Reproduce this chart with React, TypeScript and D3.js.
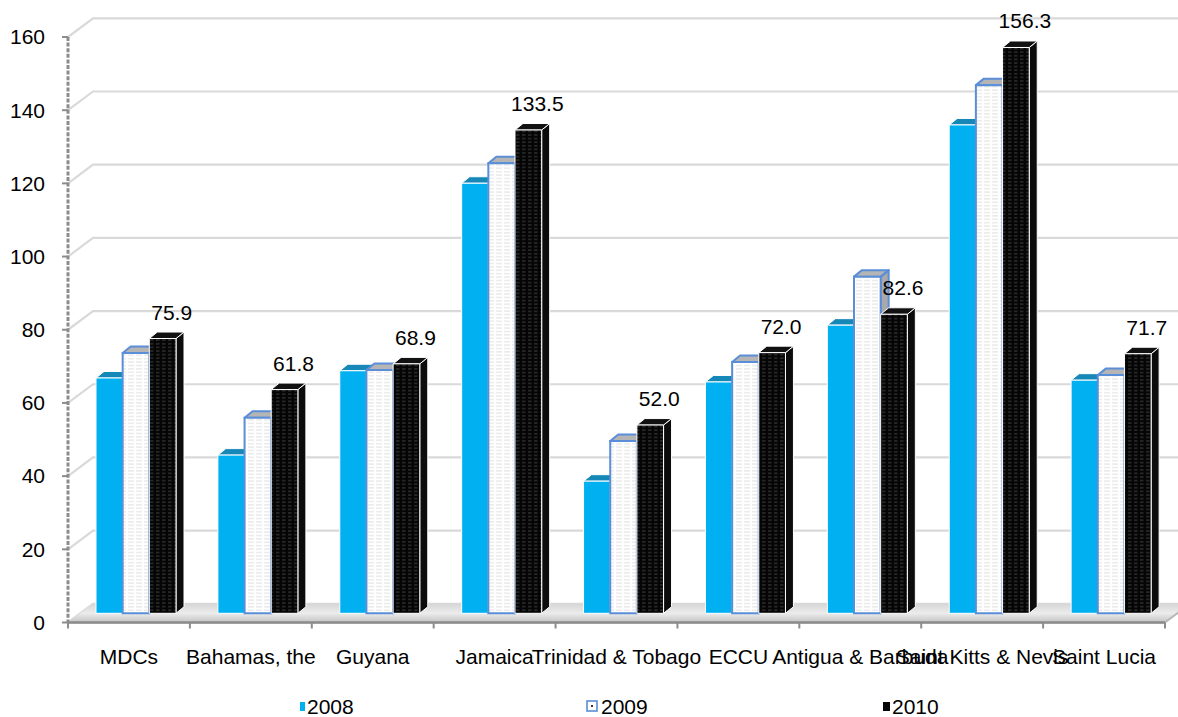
import React from "react";
import * as d3 from "d3";

// Debt ratios by country group, three years
const categories = [
  "MDCs",
  "Bahamas, the",
  "Guyana",
  "Jamaica",
  "Trinidad & Tobago",
  "ECCU",
  "Antigua & Barbuda",
  "Saint Kitts & Nevis",
  "Saint Lucia",
];
const years = ["2008", "2009", "2010"];
const values2008 = [65.0, 43.7, 67.0, 118.8, 36.5, 63.9, 79.6, 134.9, 64.4];
const values2009 = [71.9, 54.0, 67.2, 124.3, 47.6, 69.4, 93.0, 145.9, 65.8];
const values2010 = [75.9, 61.8, 68.9, 133.5, 52.0, 72.0, 82.6, 156.3, 71.7];
const yTicks = [0, 20, 40, 60, 80, 100, 120, 140, 160];

const W = 1178;
const H = 717;
const FONT = "'Liberation Sans', Arial, sans-serif";
const FS = 21;

// 3D geometry
const axisX = 68;
const plotRight = 1165;
const wallDx = 25;
const wallDy = 18.7;
const barDx = 8;
const barDy = 6.5;

const series = [values2008, values2009, values2010];

export default function App() {
  const yAxis = d3.scaleLinear().domain([0, 160]).range([622.5, 37]);
  const yBar = d3.scaleLinear().domain([0, 160]).range([613.3, 613.3 - 160 * 3.62]);
  const x0 = d3.scaleBand<string>().domain(categories).range([axisX, plotRight]);
  const x1 = d3.scaleBand<string>().domain(years).range([28, 108]);
  const bw = x1.bandwidth();
  const base = yBar(0);

  const fronts = ["#00b0f0", "url(#pat2009)", "url(#pat2010)"];
  const tops = ["#1688b8", "#b5b5b5", "#111"];
  const sides = ["#0a86b6", "#a9a9a9", "#0c0c0c"];
  const strokes = ["#ffffff", "#5b8ed8", "#ffffff"];

  const floorY = yAxis(0);

  return (
    <svg
      width={W}
      height={H}
      style={{ position: "absolute", left: 0, top: 0, background: "#fff" }}
    >
      <defs>
        <pattern id="pat2009" width="8" height="3.4" patternUnits="userSpaceOnUse">
          <rect width="8" height="3.4" fill="#fff" />
          <line x1="0" y1="1.7" x2="6" y2="1.7" stroke="#d6d6d6" strokeWidth="0.8" />
        </pattern>
        <pattern id="pat2010" width="6" height="3.6" patternUnits="userSpaceOnUse">
          <rect width="6" height="3.6" fill="#050505" />
          <line x1="0" y1="1.8" x2="3.5" y2="1.8" stroke="#4a4a4a" strokeWidth="0.9" />
        </pattern>
        <linearGradient id="floorGrad" x1="0" y1="0" x2="0" y2="1">
          <stop offset="0" stopColor="#d6d6d6" />
          <stop offset="0.5" stopColor="#ececec" />
          <stop offset="1" stopColor="#c4c4c4" />
        </linearGradient>
      </defs>

      {/* back-wall gridlines */}
      {yTicks.map((t) => {
        const y = yAxis(t);
        return (
          <path
            key={`g${t}`}
            d={`M${axisX},${y} L${axisX + wallDx},${y - wallDy} L${W},${y - wallDy}`}
            fill="none"
            stroke="#d9d9d9"
            strokeWidth={2.2}
          />
        );
      })}

      {/* floor slab */}
      <path
        d={`M${axisX},${floorY} L${plotRight},${floorY} L${plotRight + wallDx},${floorY - wallDy} L${axisX + wallDx},${floorY - wallDy} Z`}
        fill="url(#floorGrad)"
      />
      <path
        d={`M${axisX},${floorY} L${plotRight},${floorY} L${plotRight + wallDx},${floorY - wallDy}`}
        fill="none"
        stroke="#b8b8b8"
        strokeWidth={2}
      />

      {/* bars */}
      {categories.map((c, i) => (
        <g key={c}>
          {years.map((yr, s) => {
            const v = series[s][i];
            const x = (x0(c) as number) + (x1(yr) as number);
            const top = yBar(v);
            const front = `M${x},${top} L${x + bw},${top} L${x + bw},${base} L${x},${base} Z`;
            const topFace = `M${x},${top} L${x + barDx},${top - barDy} L${x + bw + barDx},${top - barDy} L${x + bw},${top} Z`;
            const side = `M${x + bw},${top} L${x + bw + barDx},${top - barDy} L${x + bw + barDx},${base - barDy} L${x + bw},${base} Z`;
            return (
              <g key={yr}>
                <path d={side} fill={sides[s]} stroke={strokes[s]} strokeWidth={s === 1 ? 2 : 1} strokeLinejoin="round" />
                <path d={topFace} fill={tops[s]} stroke={strokes[s]} strokeWidth={s === 1 ? 2 : 1} strokeLinejoin="round" />
                <path d={front} fill={fronts[s]} stroke={strokes[s]} strokeWidth={s === 1 ? 2 : 1} />
              </g>
            );
          })}
        </g>
      ))}

      {/* value labels for 2010 */}
      {categories.map((c, i) => {
        const x = (x0(c) as number) + (x1("2010") as number) + bw / 2 + 9;
        const y = yBar(values2010[i]) - 19;
        return (
          <text
            key={`v${c}`}
            x={x}
            y={y}
            textAnchor="middle"
            fontFamily={FONT}
            fontSize={FS}
            fill="#000"
          >
            {values2010[i].toFixed(1)}
          </text>
        );
      })}

      {/* y axis */}
      <line
        x1={axisX}
        x2={axisX}
        y1={yAxis(160)}
        y2={yAxis(0)}
        stroke="#8c8c8c"
        strokeWidth={3}
        strokeDasharray="4 1.6"
      />
      {yTicks.map((t) => (
        <g key={`t${t}`}>
          <line x1={axisX - 6} x2={axisX} y1={yAxis(t)} y2={yAxis(t)} stroke="#8c8c8c" strokeWidth={2} />
          <text
            x={45}
            y={yAxis(t)}
            dy="0.35em"
            textAnchor="end"
            fontFamily={FONT}
            fontSize={FS}
            fill="#000"
          >
            {t}
          </text>
        </g>
      ))}

      {/* x axis */}
      <line x1={axisX} x2={plotRight} y1={floorY} y2={floorY} stroke="#8c8c8c" strokeWidth={2.5} />
      {categories.concat(["__end"]).map((c, i) => {
        const x = axisX + i * x0.step();
        return <line key={`xt${i}`} x1={x} x2={x} y1={floorY} y2={floorY + 6} stroke="#8c8c8c" strokeWidth={2} />;
      })}
      {categories.map((c) => (
        <text
          key={`cl${c}`}
          x={(x0(c) as number) + x0.bandwidth() / 2}
          y={664}
          textAnchor="middle"
          fontFamily={FONT}
          fontSize={FS}
          fill="#000"
        >
          {c}
        </text>
      ))}

      {/* legend */}
      <g>
        <rect x={300} y={702} width={5} height={9} fill="#00b0f0" />
        <text x={307} y={714} fontFamily={FONT} fontSize={FS} fill="#000">{years[0]}</text>

        <rect x={587} y={701} width={10} height={10} fill="#fff" stroke="#5b8ed8" strokeWidth={1.6} />
        <rect x={591} y={705} width={2} height={2} fill="#333" />
        <text x={601} y={714} fontFamily={FONT} fontSize={FS} fill="#000">{years[1]}</text>

        <rect x={883} y={702} width={7} height={9} fill="#050505" />
        <text x={892} y={714} fontFamily={FONT} fontSize={FS} fill="#000">{years[2]}</text>
      </g>
    </svg>
  );
}
